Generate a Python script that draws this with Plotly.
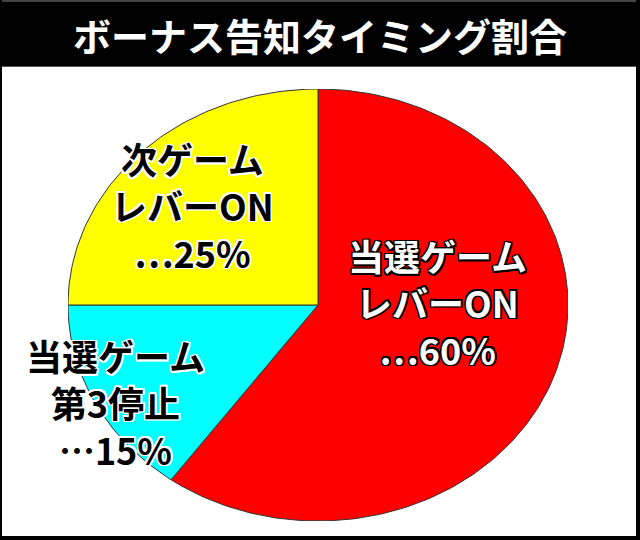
import numpy as np
import plotly.graph_objects as go

TITLE = "ボーナス告知タイミング割合"
labels = ["当選ゲーム<br>レバーON", "当選ゲーム<br>第3停止", "次ゲーム<br>レバーON"]
shares = [60, 15, 25]
slice_colors = ["#ff0000", "#00ffff", "#ffff00"]

FONT = "Noto Sans CJK JP"


def outline(color, w=1.5):
    offs = [(-w, -w), (w, -w), (-w, w), (w, w), (0, w), (w, 0), (0, -w), (-w, 0)]
    return ", ".join(f"{dx}px {dy}px 0 {color}" for dx, dy in offs)


fig = go.Figure()

# pie slices drawn clockwise from 12 o'clock; the unit circle is stretched
# by the axes into the ellipse of the original
total = sum(shares)
start = 90.0
for lab, val, col in zip(labels, shares, slice_colors):
    sweep = 360.0 * val / total
    ang = np.radians(np.linspace(start, start - sweep, max(int(sweep), 2) + 1))
    xs = np.concatenate([[0], np.cos(ang), [0]])
    ys = np.concatenate([[0], np.sin(ang), [0]])
    fig.add_trace(go.Scatter(x=xs.tolist(), y=ys.tolist(), mode="lines", fill="toself",
                             fillcolor=col, line=dict(color="#333333", width=1),
                             name=lab.replace("<br>", ""), hoverinfo="name"))
    start -= sweep

# labels
label_pos = [(0.684, 1 - 302/540), (0.180, 1 - 402/540), (0.300, 1 - 205/540)]
for lab, val, (x, y), col in zip(labels, shares, label_pos, slice_colors):
    txt_col = "white" if col == "#ff0000" else "black"
    ol_col = "black" if txt_col == "white" else "white"
    fig.add_annotation(x=x, y=y, xref="paper", yref="paper", showarrow=False,
                       xanchor="center", yanchor="middle",
                       text=f"{lab}<br>…{val}%", align="center",
                       font=dict(family=FONT, size=36, color=txt_col, weight="bold",
                                 shadow=outline(ol_col)))

# title bar and frame
fig.add_shape(type="rect", xref="paper", yref="paper", x0=0, x1=1, y0=474/540, y1=1,
              fillcolor="black", line=dict(width=0), layer="below")
fig.add_shape(type="rect", xref="paper", yref="paper", x0=0, x1=1, y0=538/540, y1=1,
              fillcolor="#444444", line=dict(width=0))
fig.add_shape(type="rect", xref="paper", yref="paper", x0=0, x1=1, y0=473/540, y1=474/540,
              fillcolor="#555555", line=dict(width=0))
fig.add_shape(type="rect", xref="paper", yref="paper", x0=0, x1=2/640, y0=0, y1=1,
              fillcolor="black", line=dict(width=0))
fig.add_shape(type="rect", xref="paper", yref="paper", x0=636/640, x1=1, y0=0, y1=1,
              fillcolor="black", line=dict(width=0))
fig.add_shape(type="rect", xref="paper", yref="paper", x0=0, x1=1, y0=0, y1=4/540,
              fillcolor="black", line=dict(width=0))
fig.add_annotation(x=0.5, y=1 - 34/540, xref="paper", yref="paper", showarrow=False,
                   xanchor="center", yanchor="middle",
                   text=TITLE, font=dict(family=FONT, size=38, color="white", weight="bold"))

fig.update_layout(
    width=640, height=540,
    margin=dict(l=0, r=0, t=0, b=0),
    paper_bgcolor="white", plot_bgcolor="rgba(0,0,0,0)",
    showlegend=False,
    xaxis=dict(range=[-1.0, 1.0], domain=[68/640, 568/640], visible=False, fixedrange=True),
    yaxis=dict(range=[-1.0, 1.0], domain=[19/540, 451/540], visible=False, fixedrange=True),
)

fig.write_html("out.html", config={"displayModeBar": False},
               post_script="document.body.style.margin='0';")
